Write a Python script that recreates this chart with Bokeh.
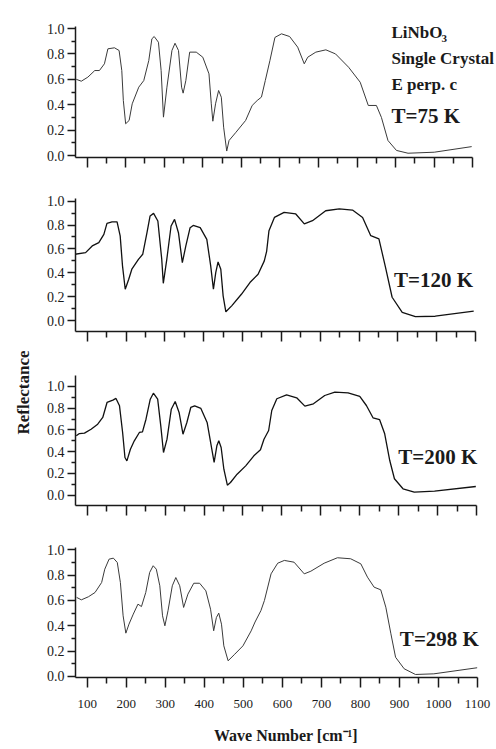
from bokeh.plotting import figure
from bokeh.layouts import column
from bokeh.models import (FixedTicker, PrintfTickFormatter, Label, Title, CustomLabelingPolicy)
from bokeh.embed import file_html
from bokeh.resources import INLINE

# ---------------- data (wave number in cm^-1, reflectance) ----------------
wn_75 = [72, 85, 102, 120, 132, 145, 154, 171, 183, 190, 194, 200, 209, 217, 234, 247, 260, 268, 274, 285,
         292, 298, 307, 320, 328, 337, 345, 349, 356, 366, 383, 400, 416, 422, 426, 433, 441, 448, 454, 462,
         468, 486, 511, 528, 541, 552, 562, 574, 587, 604, 625, 646, 663, 672, 693, 719, 744, 778, 808, 829,
         850, 863, 880, 902, 932, 1000, 1097]
r_75 = [0.60, 0.585, 0.617, 0.669, 0.669, 0.722, 0.84, 0.848, 0.827, 0.669, 0.433, 0.25, 0.276, 0.407, 0.538,
        0.59, 0.748, 0.919, 0.937, 0.892, 0.669, 0.302, 0.538, 0.827, 0.884, 0.827, 0.538, 0.491, 0.59, 0.814,
        0.814, 0.774, 0.643, 0.407, 0.27, 0.407, 0.512, 0.459, 0.223, 0.035, 0.118, 0.183, 0.276, 0.394, 0.433,
        0.46, 0.59, 0.748, 0.93, 0.958, 0.937, 0.853, 0.722, 0.774, 0.814, 0.832, 0.80, 0.695, 0.577, 0.394,
        0.394, 0.30, 0.118, 0.04, 0.018, 0.026, 0.07]

wn_120 = [68, 96, 113, 130, 143, 151, 164, 177, 185, 191, 198, 207, 215, 232, 243, 254, 262, 271, 282, 292,
          296, 305, 316, 325, 335, 345, 354, 365, 373, 391, 408, 418, 425, 431, 437, 444, 450, 457, 472, 497,
          519, 540, 556, 562, 568, 582, 607, 637, 659, 680, 714, 749, 783, 809, 830, 851, 868, 885, 911, 945,
          996, 1095]
r_120 = [0.555, 0.569, 0.625, 0.653, 0.722, 0.814, 0.826, 0.826, 0.709, 0.458, 0.262, 0.346, 0.43, 0.513,
         0.555, 0.736, 0.876, 0.898, 0.834, 0.513, 0.312, 0.513, 0.792, 0.848, 0.736, 0.485, 0.625, 0.778,
         0.797, 0.778, 0.68, 0.458, 0.262, 0.402, 0.491, 0.43, 0.207, 0.073, 0.123, 0.22, 0.318, 0.388, 0.50,
         0.58, 0.753, 0.864, 0.906, 0.893, 0.81, 0.837, 0.92, 0.935, 0.926, 0.864, 0.711, 0.684, 0.446, 0.195,
         0.069, 0.033, 0.036, 0.078]

wn_200 = [72, 80, 93, 110, 127, 140, 151, 166, 174, 183, 191, 197, 202, 211, 221, 234, 242, 251, 262, 270,
          281, 289, 296, 305, 316, 326, 336, 346, 356, 366, 376, 392, 408, 420, 426, 433, 438, 444, 451, 460,
          468, 485, 507, 528, 545, 554, 566, 574, 587, 612, 638, 659, 681, 710, 736, 770, 800, 817, 834, 851,
          864, 877, 889, 911, 940, 992, 1098]
r_200 = [0.546, 0.567, 0.571, 0.607, 0.653, 0.715, 0.853, 0.874, 0.89, 0.822, 0.577, 0.347, 0.316, 0.423,
         0.5, 0.577, 0.583, 0.699, 0.883, 0.938, 0.883, 0.638, 0.393, 0.515, 0.791, 0.862, 0.761, 0.561, 0.669,
         0.807, 0.822, 0.798, 0.669, 0.423, 0.301, 0.454, 0.5, 0.439, 0.239, 0.092, 0.117, 0.193, 0.27, 0.362,
         0.418, 0.515, 0.595, 0.779, 0.887, 0.923, 0.896, 0.819, 0.841, 0.917, 0.948, 0.942, 0.908, 0.825,
         0.712, 0.694, 0.565, 0.319, 0.151, 0.059, 0.028, 0.037, 0.08]

wn_298 = [73, 85, 103, 120, 137, 145, 156, 167, 177, 185, 192, 199, 207, 218, 230, 239, 250, 260, 269, 277,
          286, 293, 299, 307, 318, 327, 337, 347, 358, 373, 388, 404, 416, 424, 431, 437, 444, 450, 461, 478,
          499, 520, 530, 545, 554, 571, 588, 605, 630, 656, 673, 707, 741, 775, 801, 818, 835, 852, 865, 878,
          890, 912, 941, 988, 1099]
r_298 = [0.624, 0.605, 0.629, 0.663, 0.742, 0.847, 0.926, 0.934, 0.9, 0.742, 0.479, 0.342, 0.413, 0.492,
         0.571, 0.552, 0.663, 0.821, 0.874, 0.847, 0.716, 0.479, 0.4, 0.519, 0.716, 0.781, 0.716, 0.545, 0.65,
         0.736, 0.736, 0.676, 0.531, 0.361, 0.466, 0.5, 0.413, 0.242, 0.124, 0.176, 0.242, 0.36, 0.43, 0.52,
         0.60, 0.81, 0.894, 0.916, 0.902, 0.81, 0.831, 0.894, 0.937, 0.929, 0.889, 0.784, 0.705, 0.684, 0.547,
         0.337, 0.152, 0.061, 0.016, 0.021, 0.069]

x_major = [100, 200, 300, 400, 500, 600, 700, 800, 900, 1000, 1100]
x_minor = [150, 250, 350, 450, 550, 650, 750, 850, 950, 1050]
y_major = [0.0, 0.2, 0.4, 0.6, 0.8, 1.0]
y_minor = [0.1, 0.3, 0.5, 0.7, 0.9]

SERIF = "Liberation Serif"
INK = "#1a1a1a"
WIDTH = 496
PX_PER_WN = 403 / 1030.0


def panel(h, top, bottom, left, y_start, y_end, y_bound_hi, show_x):
    frame_w = WIDTH - left
    x_end = 70 + frame_w / PX_PER_WN
    p = figure(width=WIDTH, height=h, x_range=(70, x_end), y_range=(y_start, y_end),
               output_backend="svg", toolbar_location=None,
               min_border_top=top, min_border_bottom=bottom,
               min_border_left=left, min_border_right=0)
    p.outline_line_color = None
    p.grid.visible = False
    p.background_fill_color = "white"
    p.border_fill_color = "white"

    xa = p.xaxis[0]
    xa.bounds = (70, 1100)
    xa.ticker = FixedTicker(ticks=x_major, minor_ticks=x_minor)
    xa.axis_line_color = INK
    xa.axis_line_width = 1.5
    xa.major_tick_line_color = INK
    xa.major_tick_line_width = 1.5
    xa.minor_tick_line_color = INK
    xa.minor_tick_line_width = 1.5
    xa.major_tick_in = 0
    xa.major_tick_out = 10
    xa.minor_tick_in = 0
    xa.minor_tick_out = 6
    if show_x:
        xa.major_label_text_font = SERIF
        xa.major_label_text_font_size = "13px"
        xa.major_label_text_color = INK
        xa.major_label_standoff = 12
        xa.axis_label = "Wave Number [cm⁻¹]"
        xa.axis_label_text_font = SERIF
        xa.axis_label_text_font_style = "bold"
        xa.axis_label_text_font_size = "16px"
        xa.axis_label_text_color = INK
        xa.axis_label_standoff = 16
    else:
        # ticks only, no tick labels on the upper panels
        xa.major_label_policy = CustomLabelingPolicy(code="return []")
        xa.major_label_text_font_size = "1px"
        xa.major_label_standoff = 0

    ya = p.yaxis[0]
    ya.bounds = (y_start, y_bound_hi)
    ya.ticker = FixedTicker(ticks=y_major, minor_ticks=y_minor)
    ya.formatter = PrintfTickFormatter(format="%.1f")
    ya.axis_line_color = INK
    ya.axis_line_width = 1.5
    ya.major_tick_line_color = INK
    ya.major_tick_line_width = 1.5
    ya.minor_tick_line_color = INK
    ya.minor_tick_line_width = 1.5
    ya.major_tick_in = 0
    ya.major_tick_out = 8
    ya.minor_tick_in = 0
    ya.minor_tick_out = 4
    ya.major_label_text_font = SERIF
    ya.major_label_text_font_size = "14px"
    ya.major_label_text_color = INK
    ya.major_label_standoff = 3
    return p


def label(p, x, y, text, size, **kw):
    p.add_layout(Label(x=x, y=y, text=text, text_font=SERIF, text_font_style="bold",
                       text_font_size=size, text_color=INK, text_baseline="alphabetic", **kw))


# panel 1: T = 75 K (frame reaches the top so that the header text is inside)
p1 = panel(176, 0, 19, 69, -0.0157, 1.2205, 1.0157, False)
p1.line(wn_75, r_75, line_color="#3a3a3a", line_width=1.0)
label(p1, 889, 0.969, "LiNbO", "17px")
label(p1, 1019, 0.925, "3", "11px")
label(p1, 889, 0.764, "Single Crystal", "17px")
label(p1, 889, 0.559, "E perp. c", "17px")
label(p1, 889, 0.315, "T=75 K", "21px")

# panel 2: T = 120 K
p2 = panel(170, 22, 15, 72, -0.092, 1.0226, 1.0226, False)
p2.line(wn_120, r_120, line_color="#111111", line_width=1.3)
label(p2, 890, 0.338, "T=120 K", "21px")

# panel 3: T = 200 K, carries the shared y title
p3 = panel(175, 29, 16, 73, -0.0948, 1.101, 1.101, False)
p3.line(wn_200, r_200, line_color="#111111", line_width=1.3)
label(p3, 899, 0.35, "T=200 K", "21px")
p3.add_layout(Title(text="Reflectance", align="right", offset=-25, standoff=22,
                    text_font=SERIF, text_font_style="bold", text_font_size="17px",
                    text_color=INK), "left")

# panel 4: T = 298 K, with the wave-number axis labels
p4 = panel(228, 26, 72, 74, -0.0079, 1.018, 1.018, True)
p4.line(wn_298, r_298, line_color="#3a3a3a", line_width=1.0)
label(p4, 901, 0.292, "T=298 K", "21px")

layout = column(p1, p2, p3, p4, spacing=0)
open("out.html", "w").write(file_html(layout, INLINE))
